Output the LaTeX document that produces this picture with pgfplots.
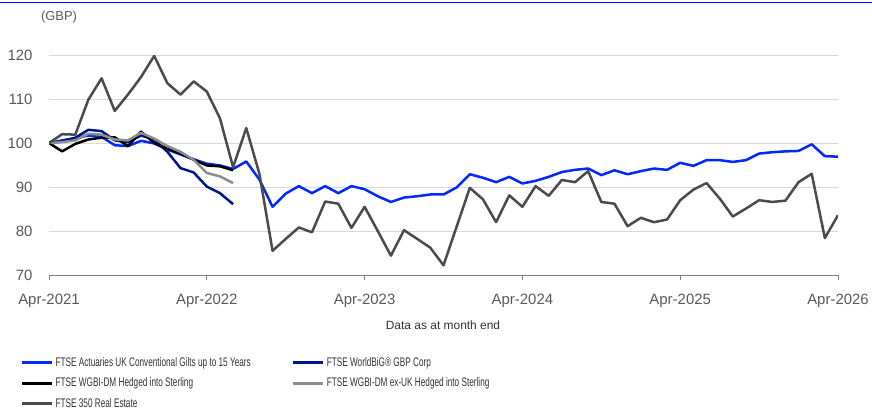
\documentclass[border=0pt]{standalone}
\usepackage{pgfplots}
\pgfplotsset{compat=1.18}
\usepackage{fontspec}
\setmainfont{Liberation Sans}
\newfontfamily\narrowfont[FakeStretch=0.66]{Liberation Sans}
\definecolor{cGilt}{RGB}{0,40,255}
\definecolor{cNavy}{RGB}{0,20,140}
\definecolor{cLGray}{RGB}{140,140,140}
\definecolor{cDGray}{RGB}{75,75,75}
\definecolor{cText}{RGB}{89,89,89}
\definecolor{cLeg}{RGB}{50,50,50}
\definecolor{cGrid}{RGB}{217,217,217}
\definecolor{cAxis}{RGB}{128,128,128}
\begin{document}
\begin{tikzpicture}
\path[use as bounding box] (0,0) rectangle (872bp,414bp);
\draw[blue, line width=1.5bp] (0,411.5bp) -- (872bp,411.5bp);
\node[font=\fontsize{13}{15}\selectfont, text=cText] at (59bp,397bp) {(GBP)};
\node[font=\fontsize{12}{14}\selectfont, text=cLeg] at (443bp,89bp) {Data as at month end};
\begin{axis}[
  at={(49bp,139bp)}, anchor=south west,
  scale only axis, width=789bp, height=220bp,
  xmin=0, xmax=60, ymin=70, ymax=120,
  xtick={0,12,24,36,48,60},
  xticklabels={Apr-2021,Apr-2022,Apr-2023,Apr-2024,Apr-2025,Apr-2026},
  ytick={70,80,90,100,110,120},
  /pgf/number format/assume math mode=true,
  axis x line*=bottom, axis y line*=left,
  y axis line style={draw=none},
  x axis line style={cAxis, line width=1bp},
  ytick style={draw=none},
  xtick style={cAxis, line width=1bp},
  tick align=outside, major tick length=5bp,
  ymajorgrids, major grid style={cGrid, line width=0.9bp},
  tick label style={font=\fontsize{15}{18}\selectfont, text=cText},
  yticklabel style={xshift=-8bp},
  xticklabel style={yshift=-11bp},
  legend columns=2,
  legend cell align=left,
  legend image code/.code={\draw[#1, line width=3bp] (0bp,0bp) -- (30bp,0bp);},
  legend style={at={(axis description cs:-0.036,-0.365)}, anchor=north west,
    draw=none, fill=none, inner sep=0pt, outer sep=0pt,
    font=\narrowfont\fontsize{12.5}{14}\selectfont, text=cLeg,
    /tikz/every even column/.append style={column sep=39bp},
    row sep=6bp,
    nodes={inner sep=2bp}},
  every axis plot/.append style={line width=2.5bp, line join=round, no markers},
]
\addplot[cGilt] coordinates {
(0,100) (1,100.6) (2,101.1) (3,101.7) (4,101.4) (5,99.5) (6,99.3) (7,100.5) (8,99.9) (9,98.5)
(10,97.4) (11,96.3) (12,95.3) (13,94.9) (14,94.1) (15,95.8) (16,91.7) (17,85.5) (18,88.5) (19,90.2)
(20,88.6) (21,90.2) (22,88.6) (23,90.2) (24,89.5) (25,87.9) (26,86.6) (27,87.6) (28,87.9) (29,88.3)
(30,88.3) (31,89.9) (32,92.9) (33,92.1) (34,91.1) (35,92.3) (36,90.8) (37,91.4) (38,92.3) (39,93.4)
(40,93.9) (41,94.2) (42,92.7) (43,93.8) (44,92.9) (45,93.6) (46,94.2) (47,93.9) (48,95.5) (49,94.8)
(50,96.1) (51,96.1) (52,95.7) (53,96.1) (54,97.6) (55,97.9) (56,98.1) (57,98.2) (58,99.7) (59,97.0)
(60,96.9)};
\addlegendentry{FTSE Actuaries UK Conventional Gilts up to 15 Years}
\addplot[cNavy] coordinates {
(0,100) (1,100.4) (2,101.2) (3,103) (4,102.7) (5,100.6) (6,100.2) (7,101.7) (8,100.8) (9,98)
(10,94.3) (11,93.3) (12,90.1) (13,88.6) (14,86.1)};
\addlegendentry{FTSE WorldBiG® GBP Corp}
\addplot[black] coordinates {
(0,100) (1,98.1) (2,99.8) (3,100.8) (4,101.2) (5,101.3) (6,99.3) (7,102.6) (8,100) (9,98.7)
(10,97.6) (11,96.2) (12,94.9) (13,94.7) (14,93.8)};
\addlegendentry{FTSE WGBI-DM Hedged into Sterling}
\addplot[cLGray] coordinates {
(0,100) (1,100.2) (2,100.6) (3,102.1) (4,101.9) (5,100.8) (6,100.6) (7,102.3) (8,101) (9,99.3)
(10,98) (11,96.2) (12,93.2) (13,92.4) (14,90.9)};
\addlegendentry{FTSE WGBI-DM ex-UK Hedged into Sterling}
\addplot[cDGray] coordinates {
(0,100) (1,102) (2,101.9) (3,109.9) (4,114.7) (5,107.3) (6,111) (7,115) (8,119.8) (9,113.6)
(10,111) (11,114) (12,111.7) (13,105.6) (14,94.5) (15,103.4) (16,93) (17,75.5) (18,78.2) (19,80.8)
(20,79.7) (21,86.7) (22,86.2) (23,80.7) (24,85.5) (25,80) (26,74.4) (27,80.2) (28,78.2) (29,76.2)
(30,72.2) (31,81) (32,89.8) (33,87.2) (34,82) (35,88.1) (36,85.5) (37,90.2) (38,88) (39,91.6)
(40,91.1) (41,93.6) (42,86.6) (43,86.2) (44,81.1) (45,83) (46,82) (47,82.6) (48,87) (49,89.4)
(50,90.9) (51,87.4) (52,83.3) (53,85.1) (54,87) (55,86.6) (56,86.9) (57,91.1) (58,93) (59,78.4)
(60,83.6)};
\addlegendentry{FTSE 350 Real Estate}
\end{axis}
\end{tikzpicture}
\end{document}
